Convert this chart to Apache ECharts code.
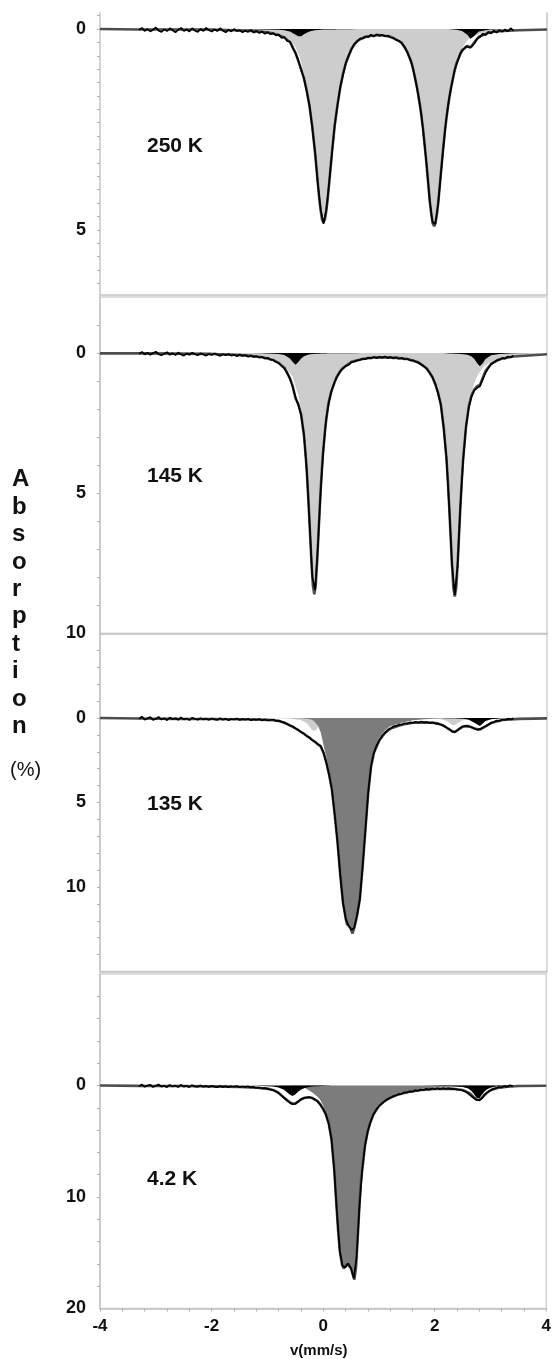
<!DOCTYPE html>
<html><head><meta charset="utf-8">
<script src="https://cdn.jsdelivr.net/npm/echarts@6.0.0/dist/echarts.min.js"></script>
<style>html,body{margin:0;padding:0;background:#fff}#c{width:554px;height:1359px}</style>
</head><body><div id="c"></div>
<script>
// ---------- shared ----------
const xTicks = [-4,-3.6,-3.2,-2.8,-2.4,-2,-1.6,-1.2,-0.8,-0.4,0,0.4,0.8,1.2,1.6,2,2.4,2.8,3.2,3.6,4];
const xLabels = [-4,-2,0,2,4];
const temps = ['250 K','145 K','135 K','4.2 K'];
// measured channels (velocity, mm/s)
const dataV = [-3.3,-3.25,-3.2,-3.15,-3.1,-3.05,-3,-2.95,-2.9,-2.85,
-2.8,-2.75,-2.7,-2.65,-2.6,-2.55,-2.5,-2.45,-2.4,-2.35,
-2.3,-2.25,-2.2,-2.15,-2.1,-2.05,-2,-1.95,-1.9,-1.85,
-1.8,-1.75,-1.7,-1.65,-1.6,-1.55,-1.5,-1.45,-1.4,-1.35,
-1.3,-1.25,-1.2,-1.15,-1.1,-1.05,-1,-0.95,-0.9,-0.85,
-0.8,-0.75,-0.7,-0.65,-0.6,-0.55,-0.5,-0.45,-0.4,-0.35,
-0.3,-0.25,-0.2,-0.15,-0.1,-0.05,0,0.05,0.1,0.15,
0.2,0.25,0.3,0.35,0.4,0.45,0.5,0.55,0.6,0.65,
0.7,0.75,0.8,0.85,0.9,0.95,1,1.05,1.1,1.15,
1.2,1.25,1.3,1.35,1.4,1.45,1.5,1.55,1.6,1.65,
1.7,1.75,1.8,1.85,1.9,1.95,2,2.05,2.1,2.15,
2.2,2.25,2.3,2.35,2.4,2.45,2.5,2.55,2.6,2.65,
2.7,2.75,2.8,2.85,2.9,2.95,3,3.05,3.1,3.15,
3.2,3.25,3.3,3.35,3.4];

// ---------- 250 K ----------
const yTicks1 = [-0.333,0,0.333,0.667,1,1.333,1.667,2,2.333,2.667,3,3.333,3.667,4,4.333,4.667,5,5.333,5.667,6,6.333];
const yLabels1 = [0,5];
const v1 = [-4,-3.3,-2.6,-2,-1.6,-1.3,-1,-0.8,-0.7,-0.6,
-0.5,-0.45,-0.4,-0.35,-0.3,-0.25,-0.2,-0.15,-0.1,-0.075,
-0.05,-0.025,0,0.025,0.05,0.075,0.1,0.15,0.2,0.25,
0.3,0.35,0.4,0.5,0.6,0.7,0.8,1,1.2,1.4,
1.5,1.58,1.63,1.68,1.73,1.78,1.83,1.88,1.905,1.93,
1.955,1.98,2.005,2.03,2.055,2.08,2.13,2.18,2.23,2.28,
2.33,2.38,2.48,2.58,2.63,2.68,2.78,2.98,3.2,3.5,4];
const light1 = [0,0.01,0.01,0.01,0.03,0.04,0.07,0.13,0.18,0.26,
0.46,0.62,0.82,1.10,1.44,1.87,2.40,3.07,3.84,4.22,
4.51,4.73,4.81,4.74,4.52,4.23,3.85,3.08,2.41,1.88,
1.45,1.11,0.85,0.49,0.30,0.22,0.18,0.15,0.19,0.34,
0.57,0.86,1.16,1.50,1.93,2.47,3.16,3.94,4.33,4.62,
4.84,4.91,4.83,4.61,4.31,3.92,3.14,2.45,1.91,1.47,
1.13,0.83,0.47,0.27,0.22,0.18,0.13,0.07,0.05,0.03,0.01];
const black1 = [0,0,0,0,0,0.005,0.01,0.02,0.03,0.06,
0.14,0.18,0.18,0.13,0.09,0.06,0.04,0.03,0.023,0.02,
0.018,0.016,0.014,0.013,0.012,0.011,0.01,0.009,0.008,0.006,
0.005,0.004,0.004,0.003,0,0,0,0,0,0,
0,0,0,0,0,0,0,0,0,0,
0,0,0,0,0,0,0,0,0,0.005,
0.008,0.02,0.048,0.15,0.24,0.19,0.06,0.013,0.005,0,0];
const fit1 = [0,0.01,0.01,0.01,0.03,0.045,0.08,0.15,0.21,0.32,
0.60,0.80,1.00,1.23,1.53,1.93,2.44,3.10,3.86,4.24,
4.53,4.75,4.82,4.75,4.53,4.24,3.86,3.09,2.42,1.89,
1.46,1.11,0.85,0.49,0.30,0.22,0.18,0.15,0.19,0.34,
0.57,0.86,1.16,1.50,1.93,2.47,3.16,3.94,4.33,4.62,
4.84,4.91,4.83,4.61,4.31,3.92,3.14,2.45,1.91,1.48,
1.14,0.85,0.52,0.42,0.46,0.37,0.19,0.08,0.05,0.03,0.01];
const data1 = [0.02,-0.03,0.05,0.00,0.06,0.02,-0.04,0.04,0.07,0.01,
0.05,-0.02,0.03,0.08,0.02,-0.03,0.05,0.01,0.06,-0.02,
0.04,0.07,0.00,0.05,-0.03,0.03,0.06,0.01,0.05,-0.02,
0.04,0.08,0.02,0.06,0.00,0.05,0.03,0.08,0.04,0.07,
0.02,0.09,0.05,0.10,0.06,0.12,0.08,0.13,0.10,0.16,
0.14,0.22,0.20,0.30,0.31,0.47,0.60,0.78,1.02,1.22,
1.56,1.91,2.46,3.08,3.88,4.50,4.85,4.50,3.85,3.12,
2.40,1.91,1.44,1.14,0.84,0.66,0.51,0.37,0.32,0.24,
0.24,0.18,0.20,0.14,0.19,0.13,0.17,0.14,0.18,0.16,
0.21,0.22,0.27,0.29,0.36,0.44,0.58,0.74,0.97,1.30,
1.68,2.12,2.75,3.45,4.27,4.80,4.86,4.38,3.62,2.88,
2.21,1.70,1.35,1.00,0.80,0.60,0.52,0.43,0.46,0.44,
0.36,0.24,0.20,0.12,0.15,0.07,0.11,0.04,0.09,0.02,
0.07,0.01,0.06,-0.02,0.04];

// ---------- 145 K ----------
const yTicks2 = [-1,0,1,2,3,4,5,6,7,8,9];
const yLabels2 = [0,5,10];
const v2 = [-4,-3.3,-2.6,-2,-1.6,-1.3,-1.1,-0.9,-0.8,-0.7,
-0.6,-0.55,-0.5,-0.45,-0.4,-0.35,-0.315,-0.29,-0.265,-0.24,
-0.215,-0.19,-0.165,-0.14,-0.115,-0.09,-0.065,-0.04,-0.015,0.035,
0.085,0.135,0.235,0.335,0.5,0.7,0.9,1.1,1.3,1.5,
1.7,1.85,1.95,2,2.05,2.1,2.15,2.2,2.225,2.25,
2.275,2.3,2.325,2.35,2.375,2.4,2.425,2.45,2.475,2.5,
2.55,2.6,2.65,2.7,2.75,2.8,2.85,2.9,3,3.15,
3.4,4];
const light2 = [0.01,0.01,0.02,0.03,0.06,0.10,0.14,0.23,0.31,0.45,
0.71,0.86,1.20,1.50,2.00,2.82,3.68,4.45,5.39,6.41,
7.44,8.25,8.57,8.27,7.46,6.43,5.41,4.47,3.70,2.59,
1.82,1.39,0.84,0.54,0.31,0.21,0.16,0.15,0.17,0.21,
0.33,0.55,0.85,1.11,1.41,1.84,2.62,3.74,4.52,5.47,
6.50,7.54,8.36,8.66,8.35,7.53,6.49,5.45,4.50,3.72,
2.60,1.82,1.38,1.08,0.82,0.67,0.52,0.43,0.30,0.19,
0.11,0.04];
const black2 = [0,0,0,0,0,0,0.01,0.02,0.035,0.07,
0.19,0.32,0.42,0.32,0.19,0.11,0.08,0.065,0.054,0.045,
0.038,0.033,0.028,0.025,0.022,0.02,0.018,0.016,0.014,0.012,
0.01,0.008,0.006,0.005,0.003,0,0,0,0,0,
0,0,0,0,0,0,0,0.01,0.012,0.014,
0.016,0.017,0.019,0.02,0.022,0.025,0.027,0.03,0.033,0.04,
0.054,0.08,0.12,0.21,0.36,0.47,0.36,0.21,0.08,0.03,
0.01,0];
const fit2 = [0.01,0.01,0.02,0.03,0.06,0.10,0.15,0.25,0.35,0.52,
0.90,1.18,1.62,1.82,2.19,2.93,3.76,4.52,5.44,6.46,
7.48,8.28,8.60,8.30,7.48,6.45,5.43,4.49,3.71,2.60,
1.83,1.40,0.85,0.55,0.31,0.21,0.16,0.15,0.17,0.21,
0.33,0.55,0.85,1.11,1.41,1.84,2.63,3.75,4.53,5.48,
6.52,7.56,8.38,8.68,8.37,7.55,6.52,5.48,4.53,3.76,
2.65,1.90,1.50,1.29,1.18,1.14,0.88,0.64,0.38,0.22,
0.12,0.04];
const data2 = [0.03,-0.04,0.05,-0.01,0.06,0.00,-0.05,0.04,0.08,0.02,
-0.03,0.06,0.01,0.07,-0.02,0.05,0.09,0.02,0.06,-0.01,
0.04,0.08,0.01,0.05,0.09,0.03,0.07,0.01,0.06,0.10,
0.04,0.08,0.03,0.09,0.06,0.11,0.05,0.10,0.07,0.13,
0.09,0.14,0.11,0.16,0.13,0.19,0.17,0.23,0.24,0.32,
0.36,0.46,0.55,0.70,0.92,1.22,1.58,1.86,2.22,2.90,
4.15,6.05,7.98,8.45,6.90,4.90,3.40,2.32,1.72,1.30,
1.02,0.82,0.64,0.55,0.46,0.42,0.33,0.31,0.26,0.25,
0.20,0.22,0.16,0.19,0.14,0.18,0.13,0.17,0.12,0.18,
0.14,0.19,0.15,0.20,0.17,0.23,0.20,0.26,0.26,0.31,
0.35,0.41,0.47,0.57,0.70,0.87,1.09,1.43,1.83,2.66,
3.72,5.50,7.53,8.62,7.58,5.45,3.80,2.62,1.95,1.55,
1.33,1.24,1.18,0.94,0.70,0.53,0.40,0.33,0.26,0.24,
0.17,0.20,0.12,0.15,0.09];

// ---------- 135 K ----------
const yTicks3 = [-4,-3,-2,-1,0,1,2,3,4,5,6,7,8,9,10,11,12,13,14];
const yLabels3 = [0,5,10];
const v3 = [-4,-3.3,-2.6,-2,-1.5,-1.2,-1,-0.9,-0.8,-0.7,
-0.6,-0.5,-0.4,-0.3,-0.2,-0.15,-0.1,-0.05,0,0.05,
0.1,0.15,0.2,0.25,0.3,0.35,0.4,0.42,0.45,0.48,
0.52,0.55,0.6,0.65,0.7,0.75,0.8,0.85,0.9,1,
1.1,1.2,1.4,1.6,1.8,2,2.1,2.2,2.3,2.35,
2.4,2.5,2.6,2.7,2.8,2.9,3,3.2,3.5,4];
const light3 = [0,0,0,0,0,0.01,0.01,0.015,0.02,0.03,
0.04,0.07,0.13,0.30,0.73,0.77,0.54,0.33,0.21,0.14,
0.10,0.07,0.05,0.04,0.035,0.03,0.025,0.02,0.02,0.02,
0.02,0.02,0.015,0.015,0.01,0.01,0.01,0.01,0.01,0.01,
0.01,0.01,0.01,0.01,0.015,0.04,0.07,0.17,0.41,0.43,
0.30,0.12,0.05,0.03,0.02,0.015,0.01,0.005,0,0];
const dark3 = [0,0,0,0,0,0,0,0,0,0,
0,0.01,0.02,0.04,0.1,0.25,0.45,0.85,1.6,2.3,
3.1,4.1,5.6,7.2,9.2,10.9,11.8,12.1,12.2,12.3,
12.65,12.3,11.6,10.6,8.7,6.5,4.3,2.8,1.9,1.15,
0.72,0.48,0.28,0.14,0.07,0.03,0.02,0.02,0.01,0.01,
0.01,0,0,0,0,0,0,0,0,0];
const black3 = [0,0,0,0,0,0,0,0,0,0,
0,0,0,0,0,0,0,0,0,0,
0,0,0,0,0,0,0,0,0,0,
0,0,0,0,0,0,0,0,0,0,
0,0,0,0,0,0,0,0.01,0.017,0.02,
0.03,0.05,0.1,0.28,0.48,0.18,0.07,0.02,0.01,0];
const fit3 = [0,0.03,0.05,0.06,0.07,0.09,0.11,0.13,0.18,0.28,
0.44,0.62,0.83,1.05,1.30,1.42,1.55,1.68,2.05,2.62,
3.35,4.22,5.70,7.30,9.28,10.95,11.9,12.2,12.3,12.4,
12.75,12.42,11.7,10.72,8.8,6.6,4.42,2.9,2.08,1.32,
0.88,0.62,0.40,0.28,0.26,0.30,0.38,0.56,0.78,0.82,
0.72,0.50,0.48,0.62,0.68,0.50,0.30,0.12,0.05,0.02];
const data3 = [0.05,-0.08,0.10,0.02,-0.05,0.12,0.04,-0.06,0.09,0.01,
0.13,-0.03,0.07,0.02,0.11,-0.04,0.08,0.03,0.12,-0.02,
0.06,0.10,0.01,0.09,0.04,0.11,0.03,0.08,0.12,0.02,
0.10,0.05,0.13,0.06,0.09,0.03,0.12,0.07,0.10,0.04,
0.13,0.08,0.11,0.06,0.14,0.09,0.15,0.12,0.09,0.17,
0.15,0.23,0.27,0.36,0.44,0.50,0.62,0.70,0.84,0.92,
1.08,1.15,1.32,1.40,1.57,1.66,2.05,2.62,3.35,4.22,
5.68,7.32,9.28,10.95,11.92,12.28,12.55,12.42,11.68,10.72,
8.78,6.62,4.42,2.88,2.08,1.62,1.32,1.05,0.88,0.70,
0.62,0.50,0.47,0.38,0.40,0.31,0.33,0.26,0.30,0.22,
0.28,0.21,0.27,0.24,0.30,0.26,0.33,0.32,0.40,0.45,
0.57,0.66,0.80,0.85,0.72,0.58,0.50,0.45,0.50,0.55,
0.62,0.70,0.66,0.58,0.48,0.40,0.28,0.24,0.15,0.18,
0.09,0.12,0.04,0.08,0.02];

// ---------- 4.2 K ----------
const yTicks4 = [-8,-6,-4,-2,0,2,4,6,8,10,12,14,16,18];
const yLabels4 = [0,10,20];
const v4 = [-4,-3.3,-2.5,-2,-1.5,-1.2,-1,-0.9,-0.8,-0.7,
-0.6,-0.55,-0.5,-0.45,-0.4,-0.33,-0.3,-0.25,-0.2,-0.1,
-0.05,0,0.05,0.1,0.15,0.2,0.23,0.27,0.3,0.34,
0.37,0.4,0.43,0.46,0.5,0.54,0.56,0.59,0.62,0.65,
0.67,0.7,0.75,0.8,0.84,0.9,1,1.1,1.2,1.32,
1.5,1.76,2,2.3,2.5,2.6,2.65,2.7,2.75,2.78,
2.8,2.85,2.9,2.95,3,3.1,3.3,3.5,4];
const dark4 = [0,0,0,0,0,0,0,0,0.01,0.02,
0.03,0.04,0.05,0.07,0.1,0.2,0.3,0.45,0.6,1.0,
1.3,1.8,2.5,3.3,4.6,7.5,10.0,13.0,14.8,16.0,
16.3,16.2,15.9,15.9,16.3,17.0,17.3,16.2,13.5,10.8,
9.0,7.5,5.3,4.0,3.3,2.5,1.75,1.3,1.0,0.75,
0.5,0.3,0.18,0.1,0.08,0.07,0.06,0.06,0.05,0.05,
0.05,0.04,0.04,0.04,0.03,0.03,0.02,0.01,0];
const black4 = [0,0,0,0,0.01,0.03,0.06,0.1,0.18,0.37,
0.81,0.95,0.81,0.56,0.37,0.22,0.18,0.13,0.10,0.06,
0.05,0.04,0.03,0.02,0,0,0,0,0,0,
0,0,0,0,0,0,0,0,0,0,
0,0,0,0,0,0,0,0,0,0,
0,0,0.02,0.06,0.14,0.28,0.44,0.73,1.10,1.20,
1.15,0.81,0.50,0.31,0.20,0.10,0.04,0.02,0];
const fit4 = [0,0.03,0.05,0.08,0.12,0.2,0.28,0.4,0.65,1.1,
1.5,1.62,1.62,1.45,1.25,1.1,1.07,1.05,1.1,1.4,
1.7,2.1,2.6,3.4,4.8,7.6,10.1,13.1,14.9,16.1,
16.4,16.3,16.0,16.0,16.4,17.1,17.4,16.3,13.6,10.9,
9.1,7.6,5.4,4.1,3.4,2.6,1.85,1.4,1.1,0.85,
0.6,0.4,0.3,0.28,0.4,0.62,0.8,1.05,1.26,1.32,
1.3,1.1,0.8,0.6,0.42,0.25,0.1,0.05,0.02];
const data4 = [0.08,-0.10,0.12,0.00,-0.07,0.14,0.03,-0.09,0.10,0.02,
0.15,-0.05,0.09,0.01,0.13,-0.06,0.10,0.04,0.15,-0.03,
0.08,0.12,0.00,0.11,0.05,0.14,0.02,0.10,0.16,0.04,
0.12,0.06,0.15,0.07,0.11,0.05,0.16,0.09,0.13,0.08,
0.17,0.12,0.22,0.18,0.25,0.24,0.30,0.36,0.42,0.52,
0.68,0.88,1.12,1.32,1.52,1.68,1.64,1.45,1.26,1.12,
1.08,1.05,1.12,1.24,1.42,1.72,2.12,2.62,3.42,4.82,
7.62,11.6,14.9,16.2,16.3,15.95,16.4,17.3,15.4,10.9,
7.6,5.4,4.1,3.28,2.62,2.18,1.86,1.62,1.42,1.22,
1.12,0.98,0.90,0.78,0.76,0.62,0.64,0.52,0.55,0.42,
0.48,0.36,0.42,0.30,0.38,0.27,0.34,0.25,0.33,0.24,
0.31,0.26,0.32,0.30,0.36,0.38,0.45,0.55,0.72,0.92,
1.12,1.30,1.32,1.12,0.82,0.58,0.44,0.30,0.26,0.12,
0.18,0.05,0.12,-0.02,0.08];

// ---------- build ----------
const zip = (xs, ys) => xs.map((x, i) => [x, ys[i]]);
const FONT = '"Liberation Sans", Arial, sans-serif';
const AX = '#c4c4c4';
const panels = [
  {top: 13,    height: 282,   min: -0.4, max: 6.625, ticks: yTicks1, labels: yLabels1, v: v1, light: light1, dark: null,  black: black1, fit: fit1, data: data1, ty: 148},
  {top: 297,   height: 336.5, min: -2,   max: 10,    ticks: yTicks2, labels: yLabels2, v: v2, light: light2, dark: null,  black: black2, fit: fit2, data: data2, ty: 478},
  {top: 633.5, height: 338,   min: -5,   max: 15,    ticks: yTicks3, labels: yLabels3, v: v3, light: light3, dark: dark3, black: black3, fit: fit3, data: data3, ty: 806},
  {top: 974,   height: 334.5, min: -10,  max: 20,    ticks: yTicks4, labels: yLabels4, v: v4, light: null,   dark: dark4, black: black4, fit: fit4, data: data4, ty: 1181}
];
const grid = [], xAxis = [], yAxis = [], series = [], graphic = [];
panels.forEach((p, i) => {
  grid.push({left: 100, width: 447, top: p.top, height: p.height, show: i > 0, borderColor: '#d2d2d2', borderWidth: 1.5, containLabel: false});
  const last = i === panels.length - 1;
  xAxis.push({type: 'value', gridIndex: i, min: -4, max: 4,
    axisLine: {show: true, onZero: false, lineStyle: {color: AX, width: 1.5}},
    axisTick: {show: last, customValues: xTicks, length: 3, lineStyle: {color: '#b0b0b0'}},
    axisLabel: {show: last, customValues: xLabels, margin: 9, fontFamily: FONT, fontWeight: 'bold', fontSize: 17, color: '#111'},
    splitLine: {show: false}});
  yAxis.push({type: 'value', gridIndex: i, inverse: true, min: p.min, max: p.max,
    axisLine: {show: true, onZero: false, lineStyle: {color: AX, width: 1.5}},
    axisTick: {show: true, customValues: p.ticks, length: 3, lineStyle: {color: '#b0b0b0'}},
    axisLabel: {show: true, customValues: p.labels, margin: 14, fontFamily: FONT, fontWeight: 'bold', fontSize: 18, color: '#111'},
    splitLine: {show: false}});
  const base = {xAxisIndex: i, yAxisIndex: i, symbol: 'none', silent: true, animation: false};
  if (p.light) series.push(Object.assign({type: 'line', data: zip(p.v, p.light), lineStyle: {width: 0}, areaStyle: {color: '#cdcdcd', opacity: 1}}, base));
  if (p.dark) series.push(Object.assign({type: 'line', data: zip(p.v, p.dark), lineStyle: {width: 0}, areaStyle: {color: '#7c7c7c', opacity: 1}}, base));
  series.push(Object.assign({type: 'line', data: zip(p.v, p.black), lineStyle: {width: 0}, areaStyle: {color: '#000', opacity: 1}}, base));
  series.push(Object.assign({type: 'line', data: zip(p.v, p.fit), lineStyle: {color: '#4d4d4d', width: 2.6}}, base));
  series.push(Object.assign({type: 'line', data: zip(dataV, p.data), lineStyle: {color: '#000', width: 1.7}}, base));
  graphic.push({type: 'text', left: 147, top: p.ty - 12, style: {text: temps[i], font: 'bold 21px ' + FONT, fill: '#111'}});
});
// right border of the top panel (it has no top line)
yAxis.push({type: 'value', gridIndex: 0, position: 'right', min: 0, max: 1,
  axisLine: {show: true, onZero: false, lineStyle: {color: AX, width: 1.5}}, axisTick: {show: false}, axisLabel: {show: false}, splitLine: {show: false}});
graphic.push({type: 'text', left: 12, top: 466, style: {text: 'A\nb\ns\no\nr\np\nt\ni\no\nn', font: 'bold 24px ' + FONT, lineHeight: 27.4, align: 'center', fill: '#111', x: 12}});
graphic.push({type: 'text', left: 10, top: 760, style: {text: '(%)', font: '20px ' + FONT, fill: '#111'}});
graphic.push({type: 'text', left: 290, top: 1343, style: {text: 'v(mm/s)', font: 'bold 15px ' + FONT, fill: '#111'}});

const chart = echarts.init(document.getElementById('c'), null, {renderer: 'canvas'});
chart.setOption({animation: false, backgroundColor: '#fff', grid, xAxis, yAxis, series, graphic});
</script></body></html>
